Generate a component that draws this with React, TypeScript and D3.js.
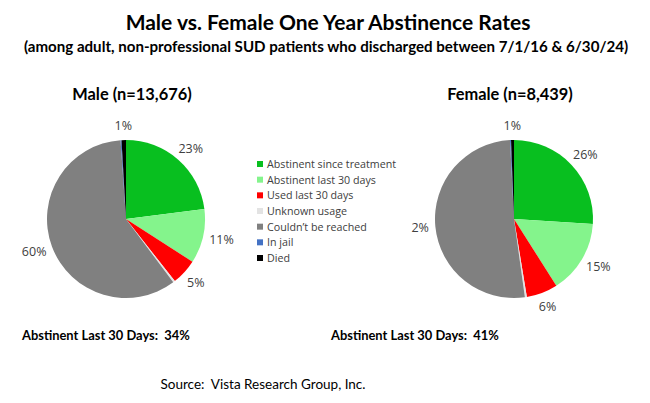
import React from "react";
import * as d3 from "d3";

const categories = [
  "Abstinent since treatment",
  "Abstinent last 30 days",
  "Used last 30 days",
  "Unknown usage",
  "Couldn\u2019t be reached",
  "In jail",
  "Died",
];
const colors = ["#08BF1F", "#84F48C", "#FF0000", "#E3E3E3", "#808080", "#4472C4", "#000000"];

const maleValues = [23, 11.1, 5.3, 0.4, 59.1, 0.2, 0.9];
const femaleValues = [26, 15, 6.4, 0.4, 51.4, 0.2, 0.6];

const maleLabels = ["23%", "11%", "5%", "", "60%", "", "1%"];
const femaleLabels = ["26%", "15%", "6%", "", "2%", "", "1%"];

const title = "Male vs. Female One Year Abstinence Rates";
const subtitle = "(among adult, non-professional SUD patients who discharged between 7/1/16 & 6/30/24)";
const maleTitle = "Male (n=13,676)";
const femaleTitle = "Female (n=8,439)";
const maleFooter = "Abstinent Last 30 Days:  34%";
const femaleFooter = "Abstinent Last 30 Days:  41%";
const source = "Source:  Vista Research Group, Inc.";

const W = 650;
const H = 403;
const R = 79;

function Pie({ cx, cy, values, labels }: { cx: number; cy: number; values: number[]; labels: string[] }) {
  const pie = d3.pie<number>().sort(null).value((d) => d)(values);
  const arc = d3.arc<d3.PieArcDatum<number>>().innerRadius(0).outerRadius(R);
  const labelArc = d3.arc<d3.PieArcDatum<number>>().innerRadius(R + 8).outerRadius(R + 8);
  return (
    <g transform={`translate(${cx},${cy})`}>
      {pie.map((p, i) => (
        <path key={i} d={arc(p) || ""} fill={colors[i]} />
      ))}
      {pie.map((p, i) => {
        if (!labels[i]) return null;
        const mid = (p.startAngle + p.endAngle) / 2;
        const [x, y] = labelArc.centroid(p);
        const w = labels[i].length * 7.3;
        const tx = x + Math.sin(mid) * w / 2;
        const ty = y - Math.cos(mid) * 7;
        return (
          <text
            key={"l" + i}
            x={tx}
            y={ty}
            textAnchor="middle"
            dominantBaseline="central"
            fontFamily="Open Sans, sans-serif"
            fontSize={12.5}
            fill="#404040"
          >
            {labels[i]}
          </text>
        );
      })}
    </g>
  );
}

export default function App() {
  const legendY = d3.scalePoint<string>().domain(categories).range([164, 258]);
  const pre = { whiteSpace: "pre" as const };
  return (
    <div style={{ position: "absolute", left: 0, top: 0 }}>
      <svg width={W} height={H} style={{ display: "block", background: "#fff" }}>
        <rect width={W} height={H} fill="#fff" />
        <text x={328} y={30} textAnchor="middle" fontFamily="Lato, sans-serif" fontWeight="bold" fontSize={21} fill="#000">
          {title}
        </text>
        <text x={326} y={52} textAnchor="middle" fontFamily="Lato, sans-serif" fontWeight="bold" fontSize={15.1} fill="#000">
          {subtitle}
        </text>
        <text x={132} y={100} textAnchor="middle" fontFamily="Lato, sans-serif" fontWeight="bold" fontSize={16.4} fill="#000">
          {maleTitle}
        </text>
        <text x={510} y={100} textAnchor="middle" fontFamily="Lato, sans-serif" fontWeight="bold" fontSize={16.4} fill="#000">
          {femaleTitle}
        </text>

        <Pie cx={126} cy={219} values={maleValues} labels={maleLabels} />
        <Pie cx={514} cy={219} values={femaleValues} labels={femaleLabels} />

        {categories.map((c, i) => (
          <g key={c} transform={`translate(257,${legendY(c)})`}>
            <rect x={0} y={-3} width={6} height={6} fill={colors[i]} />
            <text x={10} y={0} dominantBaseline="central" fontFamily="Open Sans, sans-serif" fontSize={10.7} fill="#404040">
              {c}
            </text>
          </g>
        ))}

        <text x={22} y={340} style={pre} fontFamily="Lato, sans-serif" fontWeight="bold" fontSize={12.9} fill="#000">
          {maleFooter}
        </text>
        <text x={331} y={340} style={pre} fontFamily="Lato, sans-serif" fontWeight="bold" fontSize={12.9} fill="#000">
          {femaleFooter}
        </text>
        <text x={263} y={389} style={pre} textAnchor="middle" fontFamily="Lato, sans-serif" fontSize={13.5} fill="#000">
          {source}
        </text>
      </svg>
    </div>
  );
}
